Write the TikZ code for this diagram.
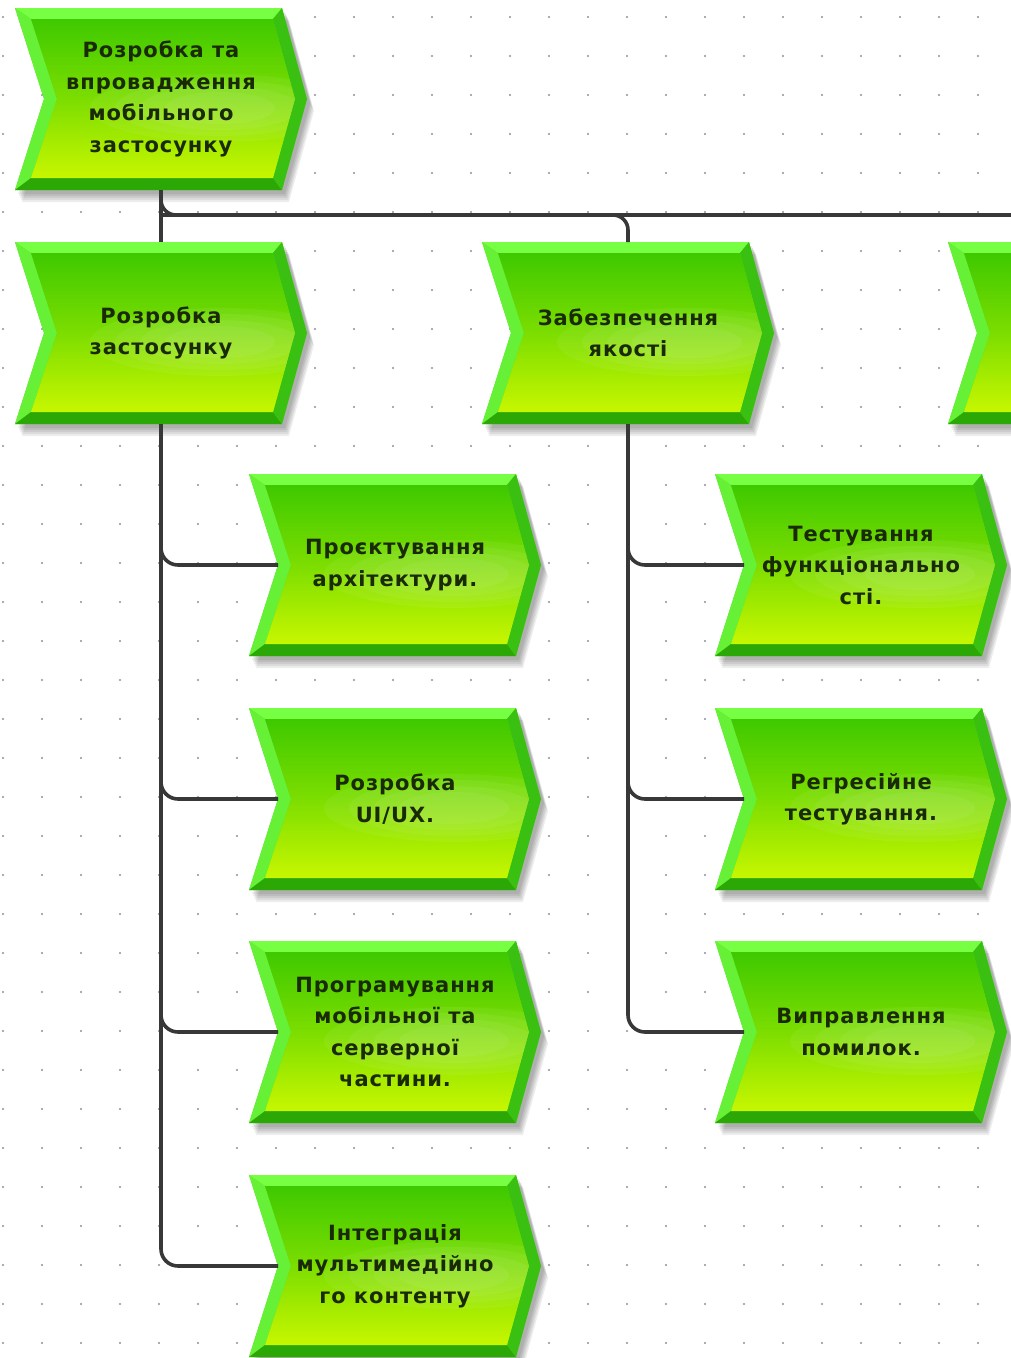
\documentclass[tikz,border=0pt]{standalone}
\usepackage{fontspec}
\newfontfamily\lblfont{DejaVu Sans}[LetterSpace=4.5]
\usetikzlibrary{backgrounds,calc}
\pgfdeclarelayer{grid}
\pgfsetlayers{grid,background,main}
\definecolor{outerg}{HTML}{55DD22}
\definecolor{bevtop}{HTML}{77FF44}
\definecolor{bevleft}{HTML}{66F036}
\definecolor{bevbot}{HTML}{2CA806}
\definecolor{bevright}{HTML}{3AC010}
\definecolor{facetop}{HTML}{3CC800}
\definecolor{facebot}{HTML}{CCF800}
\definecolor{txt}{HTML}{1A2A05}
\definecolor{linegray}{HTML}{383838}
\definecolor{dotc}{HTML}{8A90A0}
\tikzset{
  conn/.style={draw=linegray, line width=3.6pt, rounded corners=17pt},
  chev/.style={minimum width=292pt, minimum height=182pt, inner sep=0pt, outer sep=0pt,
    align=center, text=txt, font=\lblfont\bfseries\fontsize{21}{31.5}\selectfont},
  shadowfill/.style={fill=black, opacity=0.07},
}
\newcommand\chevpath{(0,0) -- (267,0) -- (292,91) -- (267,182) -- (0,182) -- (29,91) -- cycle}
\newcommand\chevshape[1]{%
  \begin{pgfonlayer}{background}
  \begin{scope}[shift={(#1.north west)}]
    \foreach \dx/\dy in {3/4, 4/6, 5/8, 6/10, 7/12}
      \fill[shadowfill, shift={(\dx,\dy)}] \chevpath;
    \fill[outerg] \chevpath;
    \fill[bevtop] (0,0) -- (267,0) -- (258,11) -- (16,11) -- cycle;
    \fill[bevleft] (0,0) -- (16,11) -- (42,91) -- (16,170) -- (0,182) -- (29,91) -- cycle;
    \fill[bevbot] (0,182) -- (16,170) -- (258,170) -- (267,182) -- cycle;
    \fill[bevright] (267,0) -- (292,91) -- (267,182) -- (258,170) -- (280,91) -- (258,11) -- cycle;
    \begin{scope}
      \clip (16,11) -- (258,11) -- (280,91) -- (258,170) -- (16,170) -- (42,91) -- cycle;
      \shade[top color=facetop, bottom color=facebot, middle color=facetop!55!facebot]
        (10,8) rectangle (285,175);
      \foreach \rx/\ry in {130/34, 105/28, 80/22, 55/16}
        \fill[white, opacity=0.06] (205,100) ellipse (\rx*1pt and \ry*1pt);
    \end{scope}
  \end{scope}
  \end{pgfonlayer}}
\begin{document}
\begin{tikzpicture}[x=1pt, y=-1pt]
\useasboundingbox (0,0) rectangle (1011,1358);
\clip (0,0) rectangle (1011,1358);
\begin{pgfonlayer}{grid}
  \fill[white] (0,0) rectangle (1011,1358);
  \foreach \i in {0,...,25} \foreach \j in {0,...,34}
    \fill[dotc] (3+39*\i, 17+39*\j) circle (1.1pt);
\end{pgfonlayer}

\node[chev] (n0) at (161,99) {Розробка та\\впровадження\\мобільного\\застосунку};
\chevshape{n0}
\node[chev] (n1) at (161,333) {Розробка\\застосунку};
\chevshape{n1}
\node[chev] (n2) at (628,333) {Забезпечення\\якості};
\chevshape{n2}
\node[chev] (n4) at (1094,333) {};
\chevshape{n4}

\node[chev] (a1) at (395,565) {Проєктування\\архітектури.};
\chevshape{a1}
\node[chev] (a2) at (395,799) {Розробка\\UI/UX.};
\chevshape{a2}
\node[chev] (a3) at (395,1032) {Програмування\\мобільної та\\серверної\\частини.};
\chevshape{a3}
\node[chev] (a4) at (395,1266) {Інтеграція\\мультимедійно\\го контенту};
\chevshape{a4}

\node[chev] (b1) at (861,565) {Тестування\\функціонально\\сті.};
\chevshape{b1}
\node[chev] (b2) at (861,799) {Регресійне\\тестування.};
\chevshape{b2}
\node[chev] (b3) at (861,1032) {Виправлення\\помилок.};
\chevshape{b3}

\coordinate (bus) at (0,215);
\draw[conn] (n0.south) -- (n1.north);
\draw[conn, rounded corners=15pt] (n0.south) |- (n4.north |- bus) -- (n4.north);
\draw[conn, rounded corners=15pt] (n1.north |- bus) -| (n2.north);

\draw[conn] (n1.south) |- ([xshift=29pt]a1.west);
\draw[conn] (n1.south) |- ([xshift=29pt]a2.west);
\draw[conn] (n1.south) |- ([xshift=29pt]a3.west);
\draw[conn] (n1.south) |- ([xshift=29pt]a4.west);

\draw[conn] (n2.south) |- ([xshift=29pt]b1.west);
\draw[conn] (n2.south) |- ([xshift=29pt]b2.west);
\draw[conn] (n2.south) |- ([xshift=29pt]b3.west);
\end{tikzpicture}
\end{document}
